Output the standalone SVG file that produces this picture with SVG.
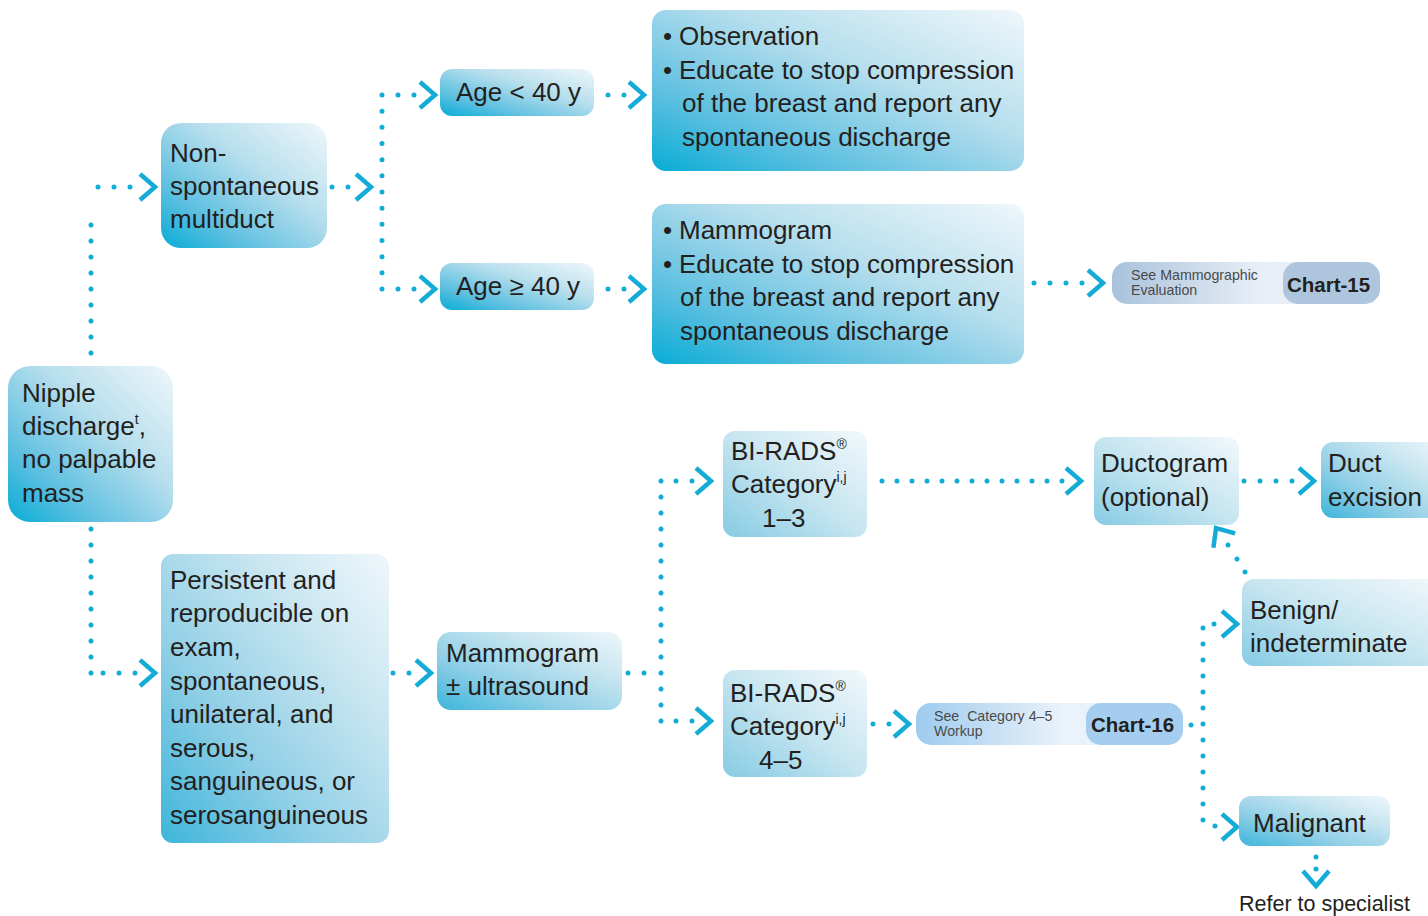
<svg xmlns="http://www.w3.org/2000/svg" xmlns:xlink="http://www.w3.org/1999/xlink" width="1428" height="916" viewBox="0 0 1428 916">
  <style>
    .t { font-family: "Liberation Sans", Arial, sans-serif; font-size: 26px; fill: #231f20; }
    .sup { font-size: 14px; }
    .small { font-family: "Liberation Sans", Arial, sans-serif; font-size: 14.2px; fill: #4a4a4a; }
    .chart { font-family: "Liberation Sans", Arial, sans-serif; font-size: 20.5px; font-weight: bold; fill: #231f20; }
    .dots { fill: none; stroke: #13acd6; stroke-width: 5; stroke-linecap: round; stroke-dasharray: 0 16; }
    .chev { fill: none; stroke: #13acd6; stroke-width: 4.5; stroke-linejoin: miter; stroke-linecap: butt; }
    .dot { fill: #13acd6; }
  </style>
  <defs>
    <!-- strong cyan corner fading to near white -->
    <linearGradient id="gA" x1="0" y1="1" x2="1" y2="0">
      <stop offset="0" stop-color="#07acd6"/>
      <stop offset="0.25" stop-color="#5cbfe0"/>
      <stop offset="0.6" stop-color="#b6deed"/>
      <stop offset="1" stop-color="#eff7fb"/>
    </linearGradient>
    <linearGradient id="gB" x1="0" y1="1" x2="1" y2="0">
      <stop offset="0" stop-color="#3db5db"/>
      <stop offset="0.35" stop-color="#90cfe6"/>
      <stop offset="0.7" stop-color="#c9e6f1"/>
      <stop offset="1" stop-color="#eff7fb"/>
    </linearGradient>
    <linearGradient id="gC" x1="0" y1="1" x2="1" y2="0">
      <stop offset="0" stop-color="#86cbe4"/>
      <stop offset="0.5" stop-color="#c6e5f0"/>
      <stop offset="1" stop-color="#f2f8fb"/>
    </linearGradient>
    <linearGradient id="gGrey" x1="0" y1="0" x2="1" y2="0">
      <stop offset="0" stop-color="#a8c2dc"/>
      <stop offset="0.55" stop-color="#e8eef6"/>
      <stop offset="1" stop-color="#eef3f8"/>
    </linearGradient>
    <linearGradient id="gSky" x1="0" y1="0" x2="1" y2="0">
      <stop offset="0" stop-color="#9ecbee"/>
      <stop offset="0.55" stop-color="#eaf2fa"/>
      <stop offset="1" stop-color="#eef4fa"/>
    </linearGradient>
    <path id="chev" class="chev" d="M-15,-13 L0,0 L-15,13"/>
  </defs>

  <!-- connectors -->
  <g id="connectors">
    <!-- Nipple discharge to the two branches -->
    <path class="dots" d="M91,353 V224.5"/>
    <path class="dots" d="M98,187 H130.5"/>
    <use xlink:href="#chev" transform="translate(155,187)"/>
    <path class="dots" d="M91,529 V673.5"/>
    <path class="dots" d="M103,673 H135.5"/>
    <use xlink:href="#chev" transform="translate(155,673)"/>

    <!-- Non-spontaneous to age split -->
    <path class="dots" d="M332,187 H348.5"/>
    <use xlink:href="#chev" transform="translate(371,187)"/>
    <path class="dots" style="stroke-dasharray:0 16.17" d="M382,95 V289.5"/>
    <path class="dots" d="M398,95 H414.5"/>
    <path class="dots" d="M398,289 H414.5"/>
    <use xlink:href="#chev" transform="translate(435,95)"/>
    <use xlink:href="#chev" transform="translate(435,289)"/>

    <!-- Age boxes to management -->
    <path class="dots" d="M608,95 H624.5"/>
    <use xlink:href="#chev" transform="translate(644,95)"/>
    <path class="dots" d="M608,289 H624.5"/>
    <use xlink:href="#chev" transform="translate(644,289)"/>

    <!-- Mammogram to Chart-15 -->
    <path class="dots" d="M1034,283 H1082.5"/>
    <use xlink:href="#chev" transform="translate(1103,283)"/>

    <!-- Persistent to imaging -->
    <path class="dots" d="M393,673 H409.5"/>
    <use xlink:href="#chev" transform="translate(431,673)"/>

    <!-- Imaging to BI-RADS split -->
    <path class="dots" d="M628,673 H644.5"/>
    <path class="dots" d="M661,481 V721.5"/>
    <path class="dots" d="M676,481 H692.5"/>
    <path class="dots" d="M676,721 H692.5"/>
    <use xlink:href="#chev" transform="translate(711,481)"/>
    <use xlink:href="#chev" transform="translate(711,721)"/>

    <!-- BI-RADS 1-3 to Ductogram to Duct excision -->
    <path class="dots" style="stroke-dasharray:0 15" d="M882,481 H1062.5"/>
    <use xlink:href="#chev" transform="translate(1081,481)"/>
    <path class="dots" d="M1244,481 H1292.5"/>
    <use xlink:href="#chev" transform="translate(1314,481)"/>

    <!-- BI-RADS 4-5 to Chart-16 -->
    <path class="dots" d="M873,724 H889.5"/>
    <use xlink:href="#chev" transform="translate(909,724)"/>

    <!-- Chart-16 to outcomes -->
    <circle class="dot" cx="1191" cy="725" r="2.5"/>
    <path class="dots" d="M1203,628 V820.5"/>
    <circle class="dot" cx="1214" cy="624" r="2.5"/>
    <circle class="dot" cx="1215" cy="826" r="2.5"/>
    <use xlink:href="#chev" transform="translate(1237,624)"/>
    <use xlink:href="#chev" transform="translate(1237,827)"/>

    <!-- Benign back to Ductogram -->
    <circle class="dot" cx="1228" cy="545" r="2.5"/>
    <circle class="dot" cx="1237" cy="559" r="2.5"/>
    <circle class="dot" cx="1245" cy="572" r="2.5"/>
    <use xlink:href="#chev" transform="translate(1216,528) rotate(236.6)"/>

    <!-- Malignant to referral -->
    <circle class="dot" cx="1316" cy="857" r="2.5"/>
    <circle class="dot" cx="1316" cy="869" r="2.5"/>
    <use xlink:href="#chev" transform="translate(1316,886) rotate(90)"/>
  </g>

  <g id="nipple-discharge">
    <rect x="8" y="366" width="165" height="156" rx="22" fill="url(#gA)"/>
    <text class="t" x="22" y="402">Nipple</text>
    <text class="t" x="22" y="435">discharge<tspan class="sup" dy="-11">t</tspan><tspan dy="11">,</tspan></text>
    <text class="t" x="22" y="468">no palpable</text>
    <text class="t" x="22" y="502">mass</text>
  </g>

  <g id="non-spontaneous">
    <rect x="161" y="123" width="166" height="125" rx="20" fill="url(#gA)"/>
    <text class="t" x="170" y="162">Non-</text>
    <text class="t" x="170" y="195">spontaneous</text>
    <text class="t" x="170" y="228">multiduct</text>
  </g>

  <g id="age-under-40">
    <rect x="440" y="69" width="154" height="47" rx="12" fill="url(#gA)"/>
    <text class="t" x="456" y="101">Age &lt; 40 y</text>
  </g>

  <g id="age-40-plus">
    <rect x="440" y="263" width="154" height="47" rx="12" fill="url(#gA)"/>
    <text class="t" x="456" y="295">Age ≥ 40 y</text>
  </g>

  <g id="observation">
    <rect x="652" y="10" width="372" height="161" rx="14" fill="url(#gA)"/>
    <text class="t" x="663" y="45">•</text>
    <text class="t" x="679" y="45">Observation</text>
    <text class="t" x="663" y="79">•</text>
    <text class="t" x="679" y="79">Educate to stop compression</text>
    <text class="t" x="682" y="112">of the breast and report any</text>
    <text class="t" x="682" y="146">spontaneous discharge</text>
  </g>

  <g id="mammogram-education">
    <rect x="652" y="204" width="372" height="160" rx="14" fill="url(#gA)"/>
    <text class="t" x="663" y="239">•</text>
    <text class="t" x="679" y="239">Mammogram</text>
    <text class="t" x="663" y="273">•</text>
    <text class="t" x="679" y="273">Educate to stop compression</text>
    <text class="t" x="680" y="306">of the breast and report any</text>
    <text class="t" x="680" y="340">spontaneous discharge</text>
  </g>

  <g id="chart-15">
    <rect x="1112" y="262" width="268" height="42" rx="15" fill="url(#gGrey)"/>
    <rect x="1283" y="262" width="97" height="42" rx="15" fill="#adc6de"/>
    <text class="small" x="1131" y="280">See Mammographic</text>
    <text class="small" x="1131" y="295">Evaluation</text>
    <text class="chart" x="1287" y="292">Chart-15</text>
  </g>

  <g id="persistent">
    <rect x="161" y="554" width="228" height="289" rx="12" fill="url(#gB)"/>
    <text class="t" x="170" y="589">Persistent and</text>
    <text class="t" x="170" y="622">reproducible on</text>
    <text class="t" x="170" y="656">exam,</text>
    <text class="t" x="170" y="690">spontaneous,</text>
    <text class="t" x="170" y="723">unilateral, and</text>
    <text class="t" x="170" y="757">serous,</text>
    <text class="t" x="170" y="790">sanguineous, or</text>
    <text class="t" x="170" y="824">serosanguineous</text>
  </g>

  <g id="mammogram-ultrasound">
    <rect x="437" y="632" width="185" height="78" rx="14" fill="url(#gB)"/>
    <text class="t" x="446" y="662">Mammogram</text>
    <text class="t" x="446" y="695">± ultrasound</text>
  </g>

  <g id="birads-1-3">
    <rect x="723" y="431" width="144" height="106" rx="12" fill="url(#gC)"/>
    <text class="t" x="731" y="460">BI-RADS<tspan class="sup" dy="-11">®</tspan></text>
    <text class="t" x="731" y="493">Category<tspan class="sup" dy="-11">i,j</tspan></text>
    <text class="t" x="762" y="527">1–3</text>
  </g>

  <g id="birads-4-5">
    <rect x="723" y="670" width="144" height="107" rx="12" fill="url(#gC)"/>
    <text class="t" x="730" y="702">BI-RADS<tspan class="sup" dy="-11">®</tspan></text>
    <text class="t" x="730" y="735">Category<tspan class="sup" dy="-11">i,j</tspan></text>
    <text class="t" x="759" y="769">4–5</text>
  </g>

  <g id="chart-16">
    <rect x="916" y="703" width="267" height="42" rx="15" fill="url(#gSky)"/>
    <rect x="1086" y="703" width="97" height="42" rx="15" fill="#a4cdef"/>
    <text class="small" x="934" y="721" xml:space="preserve">See  Category 4–5</text>
    <text class="small" x="934" y="736">Workup</text>
    <text class="chart" x="1091" y="732">Chart-16</text>
  </g>

  <g id="ductogram">
    <rect x="1094" y="437" width="145" height="88" rx="12" fill="url(#gC)"/>
    <text class="t" x="1101" y="472">Ductogram</text>
    <text class="t" x="1101" y="506">(optional)</text>
  </g>

  <g id="duct-excision">
    <rect x="1321" y="442" width="125" height="76" rx="12" fill="url(#gB)"/>
    <text class="t" x="1328" y="472">Duct</text>
    <text class="t" x="1328" y="506">excision</text>
  </g>

  <g id="benign">
    <rect x="1242" y="579" width="200" height="87" rx="12" fill="url(#gC)"/>
    <text class="t" x="1250" y="619">Benign/</text>
    <text class="t" x="1250" y="652">indeterminate</text>
  </g>

  <g id="malignant">
    <rect x="1239" y="796" width="151" height="50" rx="12" fill="url(#gB)"/>
    <text class="t" x="1253" y="832">Malignant</text>
  </g>

  <g id="refer">
    <text class="t" style="font-size:21.5px" x="1239" y="911">Refer to specialist</text>
  </g>
</svg>
